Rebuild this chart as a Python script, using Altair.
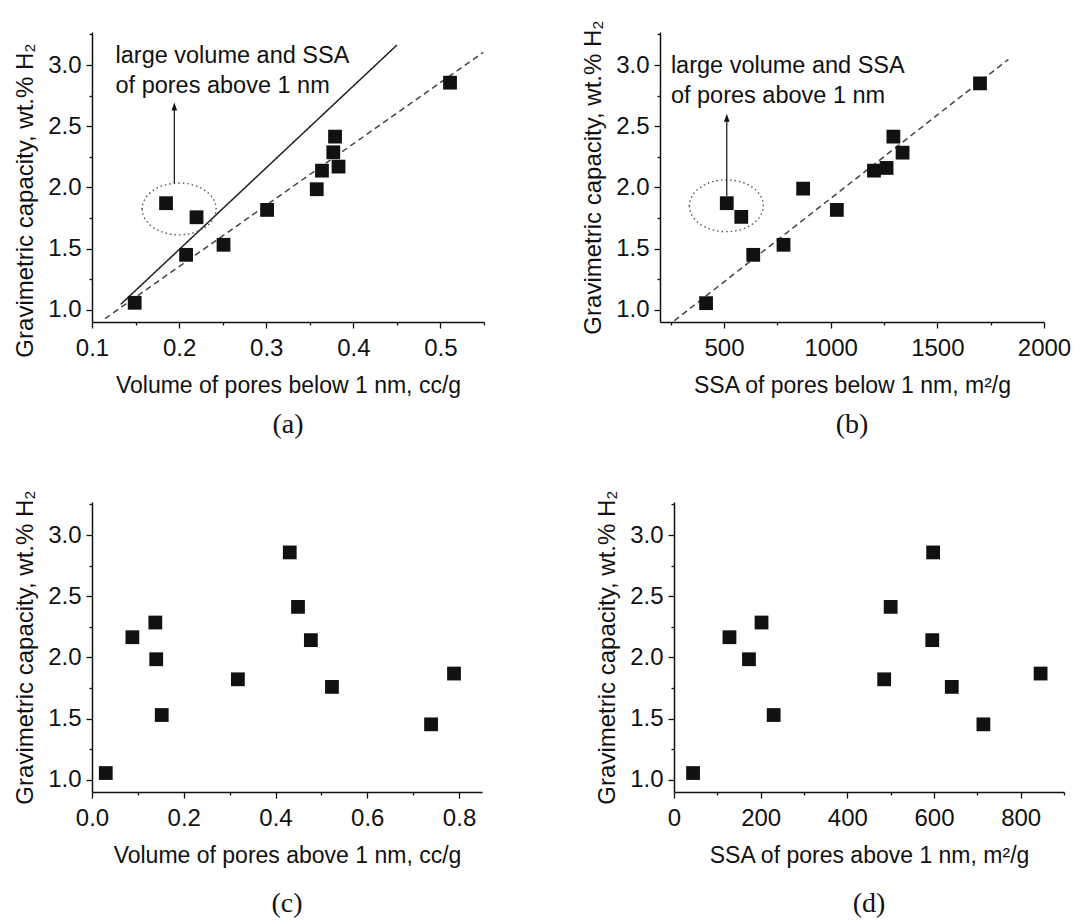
import altair as alt
import pandas as pd

# ---------------- data ----------------
# (a) volume of pores below 1 nm vs capacity
a_x = [0.149, 0.185, 0.220, 0.208, 0.251, 0.301, 0.358, 0.364, 0.377, 0.379, 0.383, 0.511]
a_y = [1.057, 1.871, 1.756, 1.449, 1.531, 1.816, 1.985, 2.137, 2.287, 2.415, 2.170, 2.856]
# (b) SSA of pores below 1 nm vs capacity
b_x = [416, 513, 581, 637, 779, 871, 1029, 1203, 1262, 1294, 1337, 1700]
b_y = [1.054, 1.871, 1.759, 1.449, 1.531, 1.990, 1.816, 2.137, 2.159, 2.415, 2.284, 2.850]
# (c) volume of pores above 1 nm vs capacity
c_x = [0.030, 0.088, 0.138, 0.140, 0.152, 0.318, 0.431, 0.449, 0.477, 0.523, 0.739, 0.789]
c_y = [1.055, 2.165, 2.285, 1.985, 1.529, 1.821, 2.858, 2.413, 2.141, 1.759, 1.453, 1.868]
# (d) SSA of pores above 1 nm vs capacity
d_x = [44, 128, 173, 202, 230, 485, 500, 598, 596, 641, 714, 846]
d_y = [1.055, 2.165, 1.985, 2.285, 1.529, 1.821, 2.413, 2.858, 2.141, 1.759, 1.453, 1.868]

# fitted / guide lines (end points)
a_solid_x = [0.133, 0.450]
a_solid_y = [1.044, 3.163]
a_dash_x = [0.115, 0.549]
a_dash_y = [0.927, 3.103]
b_dash_x = [267, 1833]
b_dash_y = [0.910, 3.046]

# annotation
note_lines = ["large volume and SSA", "of pores above 1 nm"]
a_note_x = [0.127, 0.127]
a_note_y = [3.076, 2.830]
b_note_x = [251, 251]
b_note_y = [2.990, 2.750]
a_ellipse = [0.200, 1.824]
b_ellipse = [511, 1.850]
a_arrow_x = [0.1945]
a_arrow_y = [2.034]
a_arrow_tip = [2.662]
b_arrow_x = [513]
b_arrow_y = [1.930]
b_arrow_tip = [2.570]

# axes
y_title = "Gravimetric capacity, wt.% H\u2082"
y_ticks = [1.0, 1.25, 1.5, 1.75, 2.0, 2.25, 2.5, 2.75, 3.0, 3.25]
y_domain = [0.9, 3.27]
a_ticks = [0.1, 0.15, 0.2, 0.25, 0.3, 0.35, 0.4, 0.45, 0.5, 0.55]
b_ticks = [250, 500, 750, 1000, 1250, 1500, 1750, 2000]
c_ticks = [0.0, 0.1, 0.2, 0.3, 0.4, 0.5, 0.6, 0.7, 0.8]
d_ticks = [0, 100, 200, 300, 400, 500, 600, 700, 800, 900]

FONT = "Liberation Sans"
H = 290
ELLIPSE = "M -1 0 A 1 0.7 0 1 0 1 0 A 1 0.7 0 1 0 -1 0 Z"
HEAD = "M 0 -1 L 0.7 1 L -0.7 1 Z"


def major_test(step):
    return f"abs(datum.value/{step} - round(datum.value/{step})) < 0.001"


def axis(title, values, step, fmt, title_pad, title_size, title_y=None, label_pad=5):
    t = major_test(step)
    kw = dict(
        values=values, title=title, format=fmt,
        labelExpr=f"({t}) ? datum.label : ''",
        tickSize={"condition": {"test": t, "value": 6}, "value": 3},
        labelPadding=label_pad, titlePadding=title_pad, titleFontSize=title_size,
        labelOverlap=False, labelFlush=False,
    )
    if title_y is not None:
        kw["titleY"] = title_y
    return alt.Axis(**kw)


def panel(xs, ys, x_title, x_domain, x_ticks, x_step, x_fmt, caption, cap_offset, width,
          extra=None, ytitle_y=None, ytitle_pad=10, xtitle_pad=14):
    X = alt.X("x:Q", scale=alt.Scale(domain=x_domain, nice=False, zero=False),
              axis=axis(x_title, x_ticks, x_step, x_fmt, xtitle_pad, 23, label_pad=8))
    Y = alt.Y("y:Q", scale=alt.Scale(domain=y_domain, nice=False, zero=False),
              axis=axis(y_title, y_ticks, 0.5, ".1f", ytitle_pad, 24, ytitle_y))
    pts = alt.Chart(pd.DataFrame({"x": xs, "y": ys})).mark_square(
        size=190, color="#111111", opacity=1).encode(x=X, y=Y)
    layers = []
    if extra:
        layers = extra(X, Y)
    ch = alt.layer(*layers, pts).properties(
        width=width, height=H,
        title=alt.TitleParams(caption, orient="bottom", font="Liberation Serif",
                              fontSize=28, fontWeight="normal", color="#111",
                              offset=cap_offset, anchor="middle"))
    return ch


def annot(note_x, note_y, ell, arr_x, arr_y, arr_tip, lines):
    def f(X, Y):
        out = []
        for lx, ly, dash, col in lines:
            out.append(alt.Chart(pd.DataFrame({"x": lx, "y": ly})).mark_line(
                color=col, strokeWidth=1.5, strokeDash=dash, clip=True).encode(x=X, y=Y))
        out.append(alt.Chart(pd.DataFrame({"x": note_x, "y": note_y, "t": note_lines})).mark_text(
            align="left", baseline="middle", font=FONT, fontSize=23.5, color="#111").encode(
            x=X, y=Y, text="t:N"))
        out.append(alt.Chart(pd.DataFrame({"x": [ell[0]], "y": [ell[1]]})).mark_point(
            shape=ELLIPSE, size=74 * 74, filled=False, color="#555", strokeWidth=1.4,
            strokeDash=[1.5, 3], opacity=1).encode(x=X, y=Y))
        out.append(alt.Chart(pd.DataFrame({"x": arr_x, "y": arr_y, "y2": arr_tip})).mark_rule(
            color="#111", strokeWidth=1.2).encode(x=X, y=Y, y2="y2:Q"))
        out.append(alt.Chart(pd.DataFrame({"x": arr_x, "y": arr_tip})).mark_point(
            shape=HEAD, size=64, filled=True, color="#111", opacity=1).encode(x=X, y=Y))
        return out
    return f


pa = panel(a_x, a_y, "Volume of pores below 1 nm, cc/g", [0.1, 0.55], a_ticks, 0.1, ".1f",
           "(a)", 14, 392,
           extra=annot(a_note_x, a_note_y, a_ellipse, a_arrow_x, a_arrow_y, a_arrow_tip,
                       [(a_solid_x, a_solid_y, [1, 0], "#222"),
                        (a_dash_x, a_dash_y, [6, 4], "#444")]),
           ytitle_y=H / 2 + 23)
pb = panel(b_x, b_y, "SSA of pores below 1 nm, m\u00b2/g", [200, 2000], b_ticks, 500, "d",
           "(b)", 14, 384,
           extra=annot(b_note_x, b_note_y, b_ellipse, b_arrow_x, b_arrow_y, b_arrow_tip,
                       [(b_dash_x, b_dash_y, [6, 4], "#444")]))
pc = panel(c_x, c_y, "Volume of pores above 1 nm, cc/g", [0, 0.85], c_ticks, 0.2, ".1f",
           "(c)", 23, 390)
pd_ = panel(d_x, d_y, "SSA of pores above 1 nm, m\u00b2/g", [0, 900], d_ticks, 200, "d",
            "(d)", 23, 390)

row1 = alt.hconcat(pa, pb, spacing=96)
row2 = alt.hconcat(pc, pd_, spacing=113)

chart = alt.vconcat(row1, row2, spacing=50).properties(
    padding={"left": 5, "top": 11, "right": 0, "bottom": 0}
).configure_view(stroke=None).configure_axis(
    labelFont=FONT, labelFontSize=24, labelColor="#111",
    titleFont=FONT, titleFontWeight="normal", titleColor="#111",
    domainColor="#111", domainWidth=1.5, tickColor="#111", tickWidth=1.3, grid=False
)

chart.save("out.html", embed_options={"renderer": "svg", "actions": False})
